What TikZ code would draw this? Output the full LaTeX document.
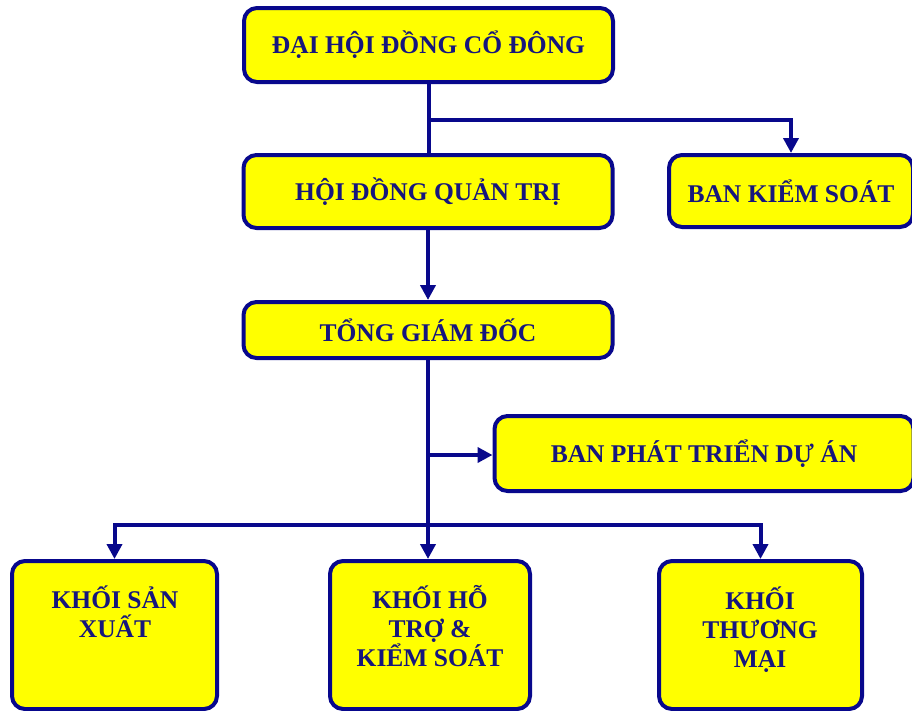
\documentclass[tikz,border=0pt]{standalone}
\usepackage{fontspec}
\setmainfont{Liberation Serif}
\usetikzlibrary{arrows.meta}
\definecolor{navy}{RGB}{8,8,140}
\definecolor{tnavy}{RGB}{22,22,125}
\definecolor{boxyellow}{RGB}{255,255,0}
\begin{document}
\begin{tikzpicture}[x=1pt,y=-1pt,
  box/.style={draw=navy, line width=4pt, fill=boxyellow, rounded corners=13pt,
    inner sep=0pt, font=\fontsize{25.5}{29}\selectfont\bfseries, text=tnavy, align=center},
  txt/.style={inner sep=0pt, font=\fontsize{25.5}{29}\selectfont\bfseries, text=tnavy, align=center, anchor=north},
  conn/.style={draw=navy, line width=4pt},
  arr/.style={conn, -{Triangle[length=15pt,width=15pt]}}]
\useasboundingbox (0,0) rectangle (912,710);
% boxes
\node[box, minimum width=369pt, minimum height=74pt] (dhd) at (428.5,45) {ĐẠI HỘI ĐỒNG CỔ ĐÔNG};
\node[box, minimum width=369pt, minimum height=73pt] (hdqt) at (428,191.5) {HỘI ĐỒNG QUẢN TRỊ};
\node[box, minimum width=244pt, minimum height=72pt] (bks) at (791,191) {BAN KIỂM SOÁT};
\node[box, minimum width=369pt, minimum height=56pt] (tgd) at (428,330) {TỔNG GIÁM ĐỐC};
\node[box, minimum width=419pt, minimum height=75pt] (bpt) at (704,453.5) {BAN PHÁT TRIỂN DỰ ÁN};
\node[box, minimum width=205pt, minimum height=148pt] (k1) at (114.5,635) {};
\node[box, minimum width=200pt, minimum height=148pt] (k2) at (430,635) {};
\node[box, minimum width=203pt, minimum height=148pt] (k3) at (760.5,635) {};
% texts of bottom boxes
\node[txt] (t1) at (115,586) {KHỐI SẢN\\XUẤT};
\node[txt] (t2) at (430,585) {KHỐI HỖ\\TRỢ \&\\KIỂM SOÁT};
\node[txt] (t3) at (760,587) {KHỐI\\THƯƠNG\\MẠI};
% connectors
\coordinate (j1) at (428.5,120);
\coordinate (j2) at (428,455);
\coordinate (j3) at (428,525);
\draw[conn] (dhd.south) -- (dhd.south |- hdqt.north);
\draw[arr] (j1) -| (bks.north);
\draw[arr] (hdqt.south) -- (tgd.north);
\draw[arr] (tgd.south) -- (tgd.south |- k2.north);
\draw[arr] (j2) -- (j2 -| bpt.west);
\draw[arr] (j3) -| (k1.north);
\draw[arr] (j3) -| (k3.north);
\end{tikzpicture}
\end{document}
